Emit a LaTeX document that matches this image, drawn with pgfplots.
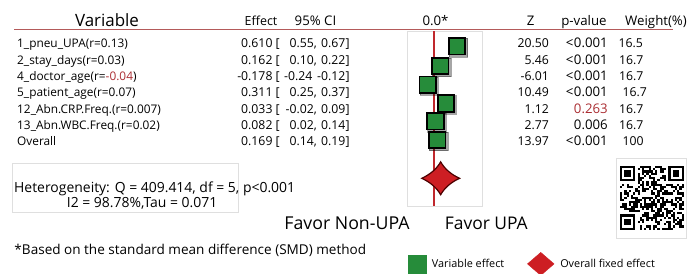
\documentclass[border=0pt]{standalone}
\usepackage{pgfplots}
\pgfplotsset{compat=1.18}
\usepackage{fontspec}
\setmainfont{Open Sans}
\definecolor{sqgreen}{RGB}{38,140,58}
\definecolor{dred}{RGB}{205,30,35}
\definecolor{lred}{RGB}{192,40,45}
\definecolor{hline}{RGB}{180,90,90}
\definecolor{pred}{RGB}{170,45,50}
\pgfdeclareplotmark{cdiam}{%
 \pgfpathmoveto{\pgfqpoint{0pt}{16.5pt}}%
 \pgfpathquadraticcurveto{\pgfqpoint{6pt}{6pt}}{\pgfqpoint{19pt}{0pt}}%
 \pgfpathquadraticcurveto{\pgfqpoint{6pt}{-6pt}}{\pgfqpoint{0pt}{-16.5pt}}%
 \pgfpathquadraticcurveto{\pgfqpoint{-6pt}{-6pt}}{\pgfqpoint{-19pt}{0pt}}%
 \pgfpathquadraticcurveto{\pgfqpoint{-6pt}{6pt}}{\pgfqpoint{0pt}{16.5pt}}%
 \pgfpathclose\pgfusepathqfillstroke}
\newcommand\rf{\fontsize{12.3}{14}\selectfont}
\newcommand\nf{\fontsize{11.9}{14}\selectfont}
\newcommand\hf{\fontsize{13.3}{15}\selectfont}
\newcommand\pf{\fontsize{13.3}{15}\selectfont}
\def\cm{,}
\def\lt{<\kern0.6bp}
\begin{document}
\begin{tikzpicture}[x=1bp,y=-1bp]
\useasboundingbox (0,0) rectangle (692,273);
% header
\draw[hline, line width=1bp] (14,29.8) -- (673,29.8);
\node[anchor=base] at (107,26.5) {\fontsize{17}{19}\selectfont Variable};
\node[anchor=base] at (261,25.3) {\fontsize{12.5}{15}\selectfont Effect};
\node[anchor=base] at (315.5,25.3) {\hf 95\% CI};
\node[anchor=base] at (435.5,25.3) {\hf 0.0*};
\node[anchor=base] at (530.7,25.3) {\hf Z};
\node[anchor=base] at (584,25.3) {\hf p-value};
\node[anchor=base] at (656,25.3) {\hf Weight(\%)};
% rows
\foreach \name/\eff/\lo/\lx/\hi/\z/\p/\w/\wx [count=\k from 0] in {
 1\_pneu\_UPA(r=0.13)/0.610/0.55\cm/317/0.67/20.50/\lt0.001/16.5/618.5,
 2\_stay\_days(r=0.03)/0.162/0.10\cm/317/0.22/5.46/\lt0.001/16.7/619,
 4\_doctor\_age(r=\textcolor{pred}{-0.04})/-0.178/-0.24/312.5/-0.12/-6.01/\lt0.001/16.7/619,
 5\_patient\_age(r=0.07)/0.311/0.25\cm/317/0.37/10.49/\lt0.001/16.7/622.5,
 12\_Abn.CRP.Freq.(r=0.007)/0.033/-0.02\cm/317/0.09/1.12/\textcolor{pred}{0.263}/16.7/619,
 13\_Abn.WBC.Freq.(r=0.02)/0.082/0.02\cm/317/0.14/2.77/0.006/16.7/619,
 Overall/0.169/0.14\cm/317/0.19/13.97/\lt0.001/100/622.5}{
 \pgfmathsetmacro{\yy}{47.8+16.35*\k}
 \node[anchor=base west,inner sep=0] at (17,\yy) {\nf \name};
 \node[anchor=base east,inner sep=0] at (272.7,\yy) {\rf \eff};
 \node[anchor=base west,inner sep=0] at (275.5,\yy) {\rf [};
 \node[anchor=base east,inner sep=0] at (\lx,\yy) {\rf \lo};
 \node[anchor=base east,inner sep=0] at (345.5,\yy) {\rf \hi};
 \node[anchor=base west,inner sep=0] at (345.5,\yy) {\rf ]};
 \node[anchor=base east,inner sep=0] at (549,\yy) {\rf \z};
 \node[anchor=base east,inner sep=0] at (608,\yy) {\pf \p};
 \node[anchor=base west,inner sep=0] at (\wx,\yy) {\rf \w};
}
% heterogeneity box
\draw[gray!25, line width=0.8bp] (12.3,163.3) rectangle (238.7,212.3);
\node[anchor=base west,inner sep=0] at (14,192) {\fontsize{14}{15}\selectfont Heterogeneity: Q = 409.414, df = 5, p<0.001};
\node[anchor=base west,inner sep=0] at (66.7,207.5) {\fontsize{14}{15}\selectfont I2 = 98.78\%,Tau = 0.071};
% favor labels
\node[anchor=base] at (347,229) {\fontsize{17.8}{19}\selectfont Favor Non-UPA};
\node[anchor=base] at (486.3,229) {\fontsize{17.5}{19}\selectfont Favor UPA};
% footnote
\node[anchor=base west,inner sep=0] at (14.3,254) {\fontsize{13.6}{15}\selectfont *Based on the standard mean difference (SMD) method};
% QR code (decorative)
\draw[gray!25, line width=0.8bp] (616.5,158.5) rectangle (686.5,238.5);
\begin{scope}[shift={(620,166)}]
\foreach \i in {0,...,28}{\foreach \j in {0,...,28}{
 \pgfmathtruncatemacro{\f}{or(or(and(\i<8,\j<8),and(\i>20,\j<8)),and(\i<8,\j>20))}
 \edef\X{\the\numexpr \i*131+\j*197+\i*\j*73+\i*\i*29+\j*\j*43\relax}
 \edef\m{\the\numexpr \X-((\X-48)/97)*97\relax}
 \ifnum\f=0 \ifnum\m<48 \fill (\i*2.2,\j*2.2) rectangle ++(2.2,2.2);\fi\fi
}}
\foreach \ox/\oy in {0/0, 22/0, 0/22}{
 \fill (\ox*2.2,\oy*2.2) rectangle ++(15.4,15.4);
 \fill[white] (\ox*2.2+2.2,\oy*2.2+2.2) rectangle ++(11,11);
 \fill (\ox*2.2+4.4,\oy*2.2+4.4) rectangle ++(6.6,6.6);
}
\end{scope}
% forest panel
\begin{axis}[at={(407.5bp,-31bp)}, anchor=north west,
 scale only axis, width=74.5bp, height=175bp,
 xmin=-0.715, xmax=1.272, ymin=31, ymax=206, y dir=reverse,
 ticks=none, axis line style={draw=gray!25, line width=0.8bp},
 clip=false,
 legend style={at={(axis cs:-0.80,250)}, anchor=north west, draw=none, fill=none,
   font=\fontsize{10.9}{12}\selectfont, legend columns=2,
   /tikz/every odd column/.append style={column sep=4bp},
   /tikz/every even column/.append style={column sep=21bp}},
 legend cell align=left]
\addplot[lred, line width=1.8bp, forget plot] coordinates {(0,31) (0,206)};
\addplot[only marks, mark=square*, mark size=9.2bp, forget plot,
  mark options={fill=black, draw=none, opacity=0.35, xshift=1.3bp, yshift=-1.3bp}]
  coordinates {(0.610,46.3) (0.162,66) (-0.178,84.7) (0.311,103.5) (0.033,121.3) (0.082,140)};
\addplot[only marks, mark=square*, mark size=8.2bp, forget plot,
  mark options={fill=sqgreen, draw=black, line width=1.8bp}]
  coordinates {(0.610,46.3) (0.162,66) (-0.178,84.7) (0.311,103.5) (0.033,121.3) (0.082,140)};
\addplot[only marks, mark=cdiam, forget plot,
  mark options={fill=dred, draw=black!70!red, line width=1.2bp}]
  coordinates {(0.169,178.3)};
\addlegendimage{legend image code/.code={\fill[sqgreen] (0bp,-9bp) rectangle (18bp,9bp);}}
\addlegendentry{Variable effect}
\addlegendimage{legend image code/.code={\fill[dred] (13.3bp,-11.5bp) -- (26.6bp,0bp) -- (13.3bp,11.5bp) -- (0bp,0bp) -- cycle;}}
\addlegendentry{Overall fixed effect}
\end{axis}
\end{tikzpicture}
\end{document}
